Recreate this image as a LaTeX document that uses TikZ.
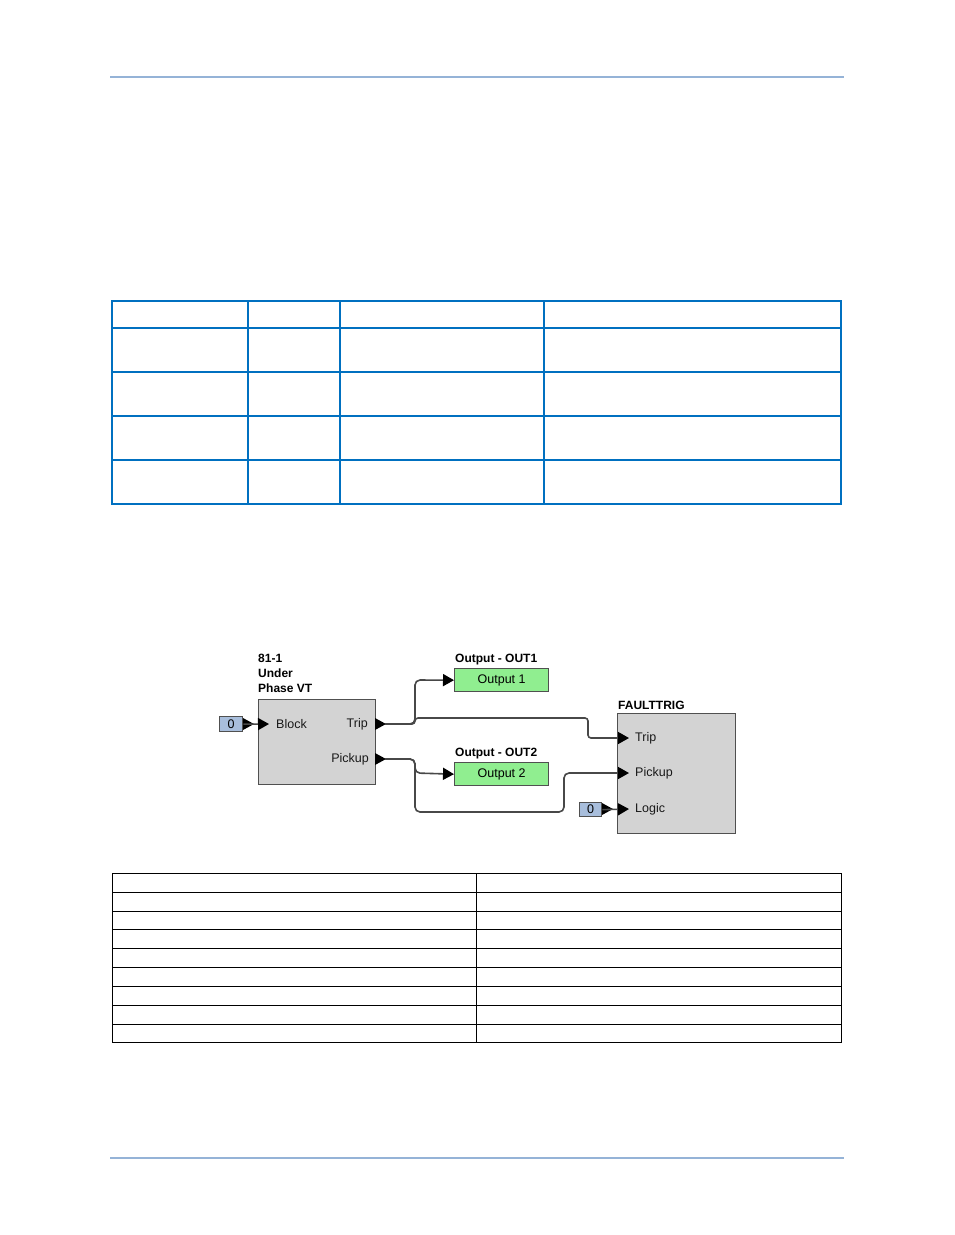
\documentclass[tikz,border=0pt]{standalone}
\usepackage{fontspec}
\setmainfont{Liberation Sans}
\usetikzlibrary{arrows.meta}
\definecolor{hdr}{HTML}{95B3D7}
\definecolor{tblue}{HTML}{0070C0}
\definecolor{blkfill}{HTML}{D3D3D3}
\definecolor{blkline}{HTML}{505050}
\definecolor{outfill}{HTML}{90EE90}
\definecolor{zerofill}{HTML}{A8BEDC}
\definecolor{wirec}{HTML}{484848}
\begin{document}
\begin{tikzpicture}[x=1pt,y=-1pt,
  blk/.style={draw=blkline, fill=blkfill, line width=1.3pt, rectangle, anchor=north west, inner sep=0pt},
  outbox/.style={draw=blkline, fill=outfill, line width=1.3pt, rectangle, anchor=north west, inner sep=0pt, font=\fontsize{12.5}{14}\selectfont},
  zerobox/.style={draw=blkline, fill=zerofill, line width=1.3pt, rectangle, anchor=north west, inner sep=0pt, font=\fontsize{12.5}{14}\selectfont},
  title/.style={font=\fontsize{12}{15}\selectfont\bfseries, inner sep=0pt, align=left},
  portlbl/.style={font=\fontsize{12.5}{14}\selectfont, inner sep=0pt, text=black!90},
  wire/.style={draw=wirec, line width=1.6pt, rounded corners=5pt},
  tip/.style={-{Triangle[length=11pt,width=12pt,color=black]}},
  tri/.pic={\fill[black] (0,-6) -- (11,0) -- (0,6) -- cycle;},
  tline/.style={draw=tblue, line width=1.1pt},
  kline/.style={draw=black, line width=1pt},
  hline/.style={draw=hdr, line width=1.6pt}
]
\useasboundingbox (0,0) rectangle (954,1235);
\fill[white] (0,0) rectangle (954,1235);

% header and footer rules
\draw[hline] (110,77) -- (844,77);
\draw[hline] (110,1158) -- (844,1158);

% upper table
\draw[tline] (112,301) rectangle (841,504);
\foreach \yy in {328,372,416,460} \draw[tline] (112,\yy) -- (841,\yy);
\foreach \xx in {248,340,544} \draw[tline] (\xx,301) -- (\xx,504);

% lower table
\draw[kline] (112,873) rectangle (841,1042);
\foreach \yy in {892,911,929,948,967,986,1005,1024} \draw[kline] (112,\yy) -- (841,\yy);
\draw[kline] (476,873) -- (476,1042);

% ---- diagram ----
% block 81-1
\node[blk, minimum width=117pt, minimum height=85pt] (b81) at (258,699) {};
\node[title, anchor=north west] (b81t) at (258,654) {81-1\\Under\\Phase VT};
\node[portlbl, anchor=west] (b81block) at (276,724) {Block};
\node[portlbl, anchor=east] (b81trip) at (368,724) {Trip};
\node[portlbl, anchor=east] (b81pick) at (369,759) {Pickup};
\pic at (375,724) {tri};
\pic at (375,759) {tri};
\coordinate (b81tripout) at (385,724);
\coordinate (b81pickout) at (385,759);
\coordinate (b81blockin) at (269,724);

% zero input to Block
\node[zerobox, minimum width=23pt, minimum height=15pt] (z1) at (219,716) {0};
\pic at (243,724) {tri};
\draw[wire, tip] (z1.east) -- (b81blockin);

% Output 1
\node[outbox, minimum width=94pt, minimum height=23pt] (o1) at (454,668) {Output 1};
\node[title, anchor=south west] (o1t) at (455,665) {Output - OUT1};
\coordinate (o1in) at (o1.west);
% Output 2
\node[outbox, minimum width=94pt, minimum height=23pt] (o2) at (454,762) {Output 2};
\node[title, anchor=south west] (o2t) at (455,759) {Output - OUT2};
\coordinate (o2in) at (o2.west);

% FAULTTRIG
\node[blk, minimum width=118pt, minimum height=120pt] (ft) at (617,713) {};
\node[title, anchor=south west] (ftt) at (618,710) {FAULTTRIG};
\node[portlbl, anchor=west] (fttrip) at (635,738) {Trip};
\node[portlbl, anchor=west] (ftpick) at (635,773) {Pickup};
\node[portlbl, anchor=west] (ftlogic) at (635,809) {Logic};
\coordinate (fttripin) at (629,738);
\coordinate (ftpickin) at (629,773);
\coordinate (ftlogicin) at (629,809);

% zero input to Logic
\node[zerobox, minimum width=22pt, minimum height=14pt] (z2) at (579,802) {0};
\pic at (602,809) {tri};
\draw[wire, tip] (z2.east) -- (ftlogicin);

% wires
\draw[wire, tip] (b81tripout) -- (415,724) -- (415,680) -- (o1in);
\draw[wire, tip, rounded corners=3pt] (b81tripout) -- (415,724) -- (415,718) -- (588,718) -- (588,738) -- (fttripin);
\draw[wire, tip] (b81pickout) -- (415,759) -- (415,773) -- (o2in);
\draw[wire, tip] (b81pickout) -- (415,759) -- (415,812) -- (564,812) -- (564,773) -- (ftpickin);
\end{tikzpicture}
\end{document}
